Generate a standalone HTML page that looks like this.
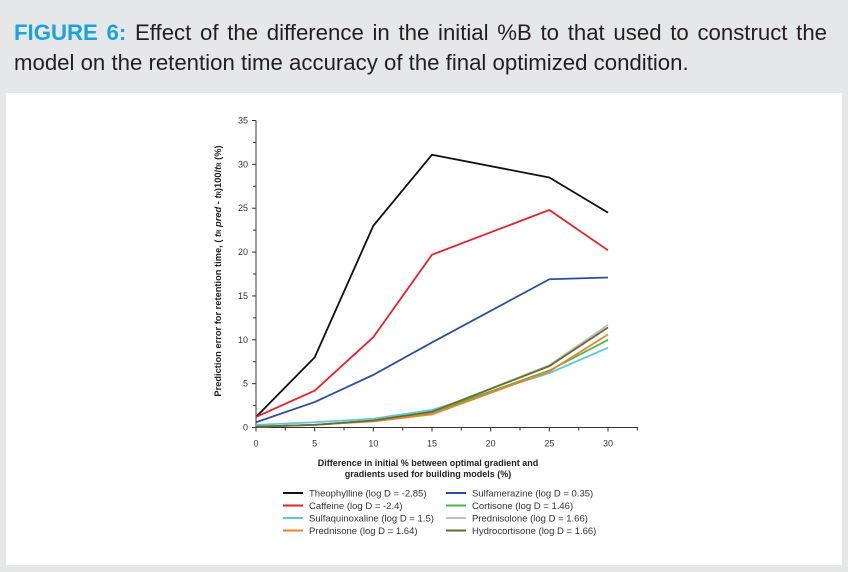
<!DOCTYPE html>
<html><head><meta charset="utf-8"><style>
body{margin:0;width:848px;height:572px;background:#e6e7e8;font-family:"Liberation Sans",sans-serif;position:relative;overflow:hidden}
.cl{position:absolute;left:14px;font-size:22.2px;line-height:30px;color:#231f20;white-space:nowrap}
#l1{top:18px;width:813px;text-align:justify;text-align-last:justify}
#l2{top:48px}
.cl b{color:#1ba3dd}
#panel{position:absolute;left:6px;top:93px;width:836px;height:472px;background:#fff}
svg{position:absolute;left:0;top:0}
</style></head><body>
<div>
<div class="cl" id="l1"><b>FIGURE 6:</b> Effect of the difference in the initial %B to that used to construct the</div>
<div class="cl" id="l2">model on the retention time accuracy of the final optimized condition.</div>
</div>
<div id="panel"></div>
<svg id="chart" width="848" height="572"></svg>
<script>
const xVals=[0,5,10,15,25,30];
const xTicks=[0,5,10,15,20,25,30];
const yTicks=[0,5,10,15,20,25,30,35];
const names=["Theophylline (log D = -2.85)","Caffeine (log D = -2.4)","Sulfaquinoxaline (log D = 1.5)","Prednisone (log D = 1.64)","Sulfamerazine (log D = 0.35)","Cortisone (log D = 1.46)","Prednisolone (log D = 1.66)","Hydrocortisone (log D = 1.66)"];
const colors=["#111111","#e8202a","#5bc8e0","#f0812a","#2a4fa0","#4cb848","#c0c0c0","#6b6b2a"];
const theophylline=[1.2,8,23,31.1,28.5,24.5];
const caffeine=[1.2,4.2,10.3,19.7,24.8,20.2];
const sulfaquinoxaline=[0.3,0.6,1.0,2.0,6.2,9.1];
const prednisone=[0.1,0.3,0.7,1.5,6.4,10.6];
const sulfamerazine=[0.6,2.9,6.0,9.7,16.9,17.1];
const cortisone=[0.1,0.3,0.8,1.7,6.5,10.0];
const prednisolone=[0.1,0.3,0.8,1.8,7.1,11.7];
const hydrocortisone=[0.1,0.3,0.8,1.8,7.0,11.4];
const series=[theophylline,caffeine,sulfaquinoxaline,prednisone,sulfamerazine,cortisone,prednisolone,hydrocortisone];
const drawOrder=[0,1,4,2,5,3,6,7];
const NS="http://www.w3.org/2000/svg";
const svg=document.getElementById('chart');
const X0=256,X1=608,Y0=427.5,Y1=120.5;
const xs=v=>X0+(X1-X0)*v/30;
const ys=v=>Y0-(Y0-Y1)*v/35;
function mk(t,a){const e=document.createElementNS(NS,t);for(const k in a)e.setAttribute(k,a[k]);svg.appendChild(e);return e;}
let ax=mk('line',{x1:X0,y1:Y0,x2:638,y2:Y0,stroke:'#333','stroke-width':1});


let ay=mk('line',{x1:X0,y1:Y0,x2:X0,y2:Y1,stroke:'#333','stroke-width':1});


for(let v=0;v<=32.5;v+=2.5){const major=v%5===0;let t=mk('line',{x1:xs(v),y1:Y0,x2:xs(v),y2:Y0+(major?4:3),stroke:'#333','stroke-width':1});

}
xTicks.forEach(v=>{let t=mk('text',{x:xs(v),y:Y0+19,'font-size':9,'text-anchor':'middle',fill:'#333'});t.textContent=v;

});
for(let v=0;v<=35;v+=2.5){const major=v%5===0;let t=mk('line',{x1:X0,y1:ys(v),x2:X0-(major?4:3),y2:ys(v),stroke:'#333','stroke-width':1});

}
yTicks.forEach(v=>{let t=mk('text',{x:X0-8,y:ys(v)+3,'font-size':9,'text-anchor':'end',fill:'#333'});t.textContent=v;

});
drawOrder.forEach(i=>{const d=series[i].map((v,j)=>(j?'L':'M')+xs(xVals[j])+' '+ys(v)).join(' ');
let p=mk('path',{d:d,fill:'none',stroke:colors[i],'stroke-width':1.8,'stroke-linejoin':'round'});

});
let yt=mk('text',{x:0,y:0,'font-size':9.3,'font-weight':'bold','text-anchor':'middle',fill:'#222',transform:'translate(221,271) rotate(-90)'});
yt.innerHTML='Prediction error for retention time, ( <tspan font-style="italic">t</tspan><tspan font-size="6">R</tspan> <tspan font-style="italic">pred</tspan> - <tspan font-style="italic">t</tspan><tspan font-size="6">R</tspan>)100/<tspan font-style="italic">t</tspan><tspan font-size="6">R</tspan> (%)';


['Difference in initial % between optimal gradient and','gradients used for building models (%)'].forEach((s,i)=>{let t=mk('text',{x:428,y:466+i*11,'font-size':9,'font-weight':'bold','text-anchor':'middle',fill:'#222'});t.textContent=s;

});
names.forEach((n,i)=>{const col=i<4?0:1,row=i%4;const lx=col?446:283,ly=493+row*12.5;
let g=document.createElementNS(NS,'g');svg.appendChild(g);


let l=document.createElementNS(NS,'line');l.setAttribute('x1',lx);l.setAttribute('x2',lx+20);l.setAttribute('y1',ly);l.setAttribute('y2',ly);l.setAttribute('stroke',colors[i]);l.setAttribute('stroke-width',2);g.appendChild(l);
let t=document.createElementNS(NS,'text');t.setAttribute('x',lx+26);t.setAttribute('y',ly+3.5);t.setAttribute('font-size',9.5);t.setAttribute('fill','#333');t.textContent=n;g.appendChild(t);});
</script>
</body></html>
